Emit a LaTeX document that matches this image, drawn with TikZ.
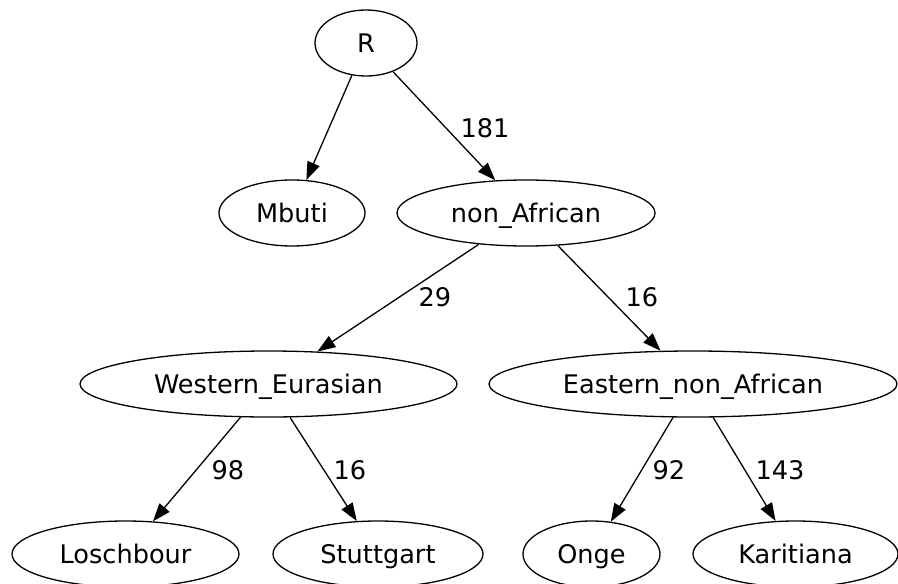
\documentclass[tikz,border=0pt]{standalone}
\usepackage{fontspec}
\setmainfont{DejaVu Sans}
\usetikzlibrary{shapes.geometric,arrows.meta}
\begin{document}
\begin{tikzpicture}[x=1pt,y=-1pt,
  every node/.style={font=\fontsize{25.6}{30}\selectfont,text height=18.7pt,text depth=0pt},
  ell/.style={draw,ellipse,inner sep=0pt,line width=1.3pt,minimum height=66pt},
  lbl/.style={inner sep=0pt},
  edge/.style={line width=1.3pt,-{Triangle[length=18pt,width=13pt]}}]
\useasboundingbox (0,0) rectangle (898,584);
\node[ell,minimum width=102pt] (R) at (366,43) {R};
\node[ell,minimum width=146pt] (Mbuti) at (292,213) {Mbuti};
\node[ell,minimum width=258pt] (nonA) at (526,213) {non\_African};
\node[ell,minimum width=377pt] (West) at (268.5,384) {Western\_Eurasian};
\node[ell,minimum width=408pt] (East) at (693,384) {Eastern\_non\_African};
\node[ell,minimum width=227pt] (Losch) at (125.5,554) {Loschbour};
\node[ell,minimum width=210pt] (Stutt) at (378,554) {Stuttgart};
\node[ell,minimum width=137pt] (Onge) at (591.5,554) {Onge};
\node[ell,minimum width=205pt] (Kari) at (795.5,554) {Karitiana};
\draw[edge] (R) -- (Mbuti);
\draw[edge] (R) -- (nonA);
\draw[edge] (nonA) -- (West);
\draw[edge] (nonA) -- (East);
\draw[edge] (West) -- (Losch);
\draw[edge] (West) -- (Stutt);
\draw[edge] (East) -- (Onge);
\draw[edge] (East) -- (Kari);
\node[lbl] (l181) at (485,128) {181};
\node[lbl] (l29) at (435,297) {29};
\node[lbl] (l16a) at (642,297) {16};
\node[lbl] (l98) at (228,470) {98};
\node[lbl] (l16b) at (350,470) {16};
\node[lbl] (l92) at (669,470) {92};
\node[lbl] (l143) at (780,470) {143};
\end{tikzpicture}
\end{document}
